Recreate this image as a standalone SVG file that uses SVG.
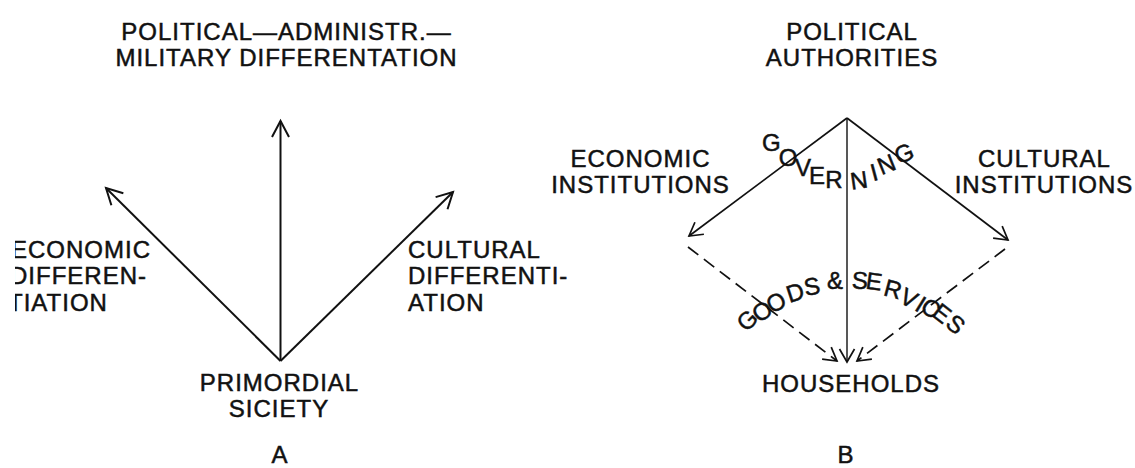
<svg xmlns="http://www.w3.org/2000/svg" width="1135" height="468" viewBox="0 0 1135 468">
  <style>
    .lbl { font-family: "Liberation Sans", Arial, Helvetica, sans-serif; font-size: 24px; letter-spacing: 1px; fill: #111; stroke: #111; stroke-width: 0.5px; }
    .mid { text-anchor: middle; }
    .curve { font-family: "Liberation Sans", Arial, Helvetica, sans-serif; font-size: 24px; fill: #111; stroke: #111; stroke-width: 0.5px; }
    .edgeA { stroke: #111; stroke-width: 2; fill: none; }
    .edgeB { stroke: #111; stroke-width: 1.7; fill: none; }
    .thin { stroke-width: 1.4; }
    .dash { stroke-dasharray: 13 7; }
  </style>
  <defs>
    <marker id="headA" markerUnits="userSpaceOnUse" viewBox="-20 -12 24 24" markerWidth="24" markerHeight="24" refX="0" refY="0" orient="auto">
      <path d="M-16,-8.5 L0,0 L-16,8.5" fill="none" stroke="#111" stroke-width="2"/>
    </marker>
    <marker id="headB" markerUnits="userSpaceOnUse" viewBox="-18 -10 22 20" markerWidth="22" markerHeight="20" refX="0" refY="0" orient="auto">
      <path d="M-13,-7.5 L0,0 L-13,7.5" fill="none" stroke="#111" stroke-width="1.7"/>
    </marker>
    <clipPath id="pageEdge">
      <rect x="15" y="0" width="1120" height="468"/>
    </clipPath>
  </defs>

  <rect x="0" y="0" width="1135" height="468" fill="#fff"/>

  <!-- connectors -->
  <g id="connectors">
    <!-- panel A: three branches from the root -->
    <line class="edgeA" x1="280.5" y1="361" x2="280.5" y2="121" marker-end="url(#headA)"/>
    <line class="edgeA" x1="280.5" y1="361" x2="106" y2="188" marker-end="url(#headA)"/>
    <line class="edgeA" x1="280.5" y1="361" x2="453" y2="192" marker-end="url(#headA)"/>
    <!-- panel B: governing lines from the apex -->
    <line class="edgeB" x1="847" y1="118" x2="689" y2="236" marker-end="url(#headB)"/>
    <line class="edgeB" x1="847" y1="118" x2="1008" y2="240" marker-end="url(#headB)"/>
    <line class="edgeB thin" x1="847" y1="118" x2="847" y2="362" marker-end="url(#headB)"/>
    <!-- panel B: goods and services flows -->
    <line class="edgeB dash" x1="688" y1="247" x2="837" y2="361" marker-end="url(#headB)"/>
    <line class="edgeB dash" x1="1005" y1="249" x2="857" y2="361" marker-end="url(#headB)"/>
  </g>

  <!-- panel A -->
  <g id="a-political">
    <text class="lbl mid" x="286.5" y="40">POLITICAL—ADMINISTR.—</text>
    <text class="lbl mid" x="286.5" y="66">MILITARY DIFFERENTATION</text>
  </g>
  <g id="a-economic" clip-path="url(#pageEdge)">
    <text class="lbl" x="11" y="258">ECONOMIC</text>
    <text class="lbl" x="10" y="284">DIFFEREN-</text>
    <text class="lbl" x="8" y="311">TIATION</text>
  </g>
  <g id="a-cultural">
    <text class="lbl" x="408" y="258">CULTURAL</text>
    <text class="lbl" x="408" y="284">DIFFERENTI-</text>
    <text class="lbl" x="408" y="311">ATION</text>
  </g>
  <g id="a-primordial">
    <text class="lbl mid" x="279.5" y="391">PRIMORDIAL</text>
    <text class="lbl mid" x="279" y="417">SICIETY</text>
  </g>
  <g id="a-caption">
    <text class="lbl mid" x="280" y="463">A</text>
  </g>

  <!-- panel B -->
  <g id="b-political">
    <text class="lbl mid" x="852" y="40">POLITICAL</text>
    <text class="lbl mid" x="852" y="66">AUTHORITIES</text>
  </g>
  <g id="b-economic">
    <text class="lbl mid" x="640.5" y="167">ECONOMIC</text>
    <text class="lbl mid" x="640.5" y="193">INSTITUTIONS</text>
  </g>
  <g id="b-cultural">
    <text class="lbl mid" x="1044.5" y="167">CULTURAL</text>
    <text class="lbl mid" x="1044" y="193">INSTITUTIONS</text>
  </g>
  <g id="b-households">
    <text class="lbl mid" x="851" y="392">HOUSEHOLDS</text>
  </g>
  <g id="b-governing">
    <text class="curve"
          x="762 778.7 795 809 825.3 851.6 873 881.5 898.6"
          y="150.6 165.6 175.6 183.6 187.6 189.7 181.2 175.2 164.5"
          rotate="0 0 0 0 0 -8 -15 -22 -22">GOVERNING</text>
  </g>
  <g id="b-goods">
    <text class="curve"
          x="746.5 759.3 771.8 789.4 805.6 818 827 843 851.6 864.9 882.4 897.9 913.6 919 930.4 944.3"
          y="332.7 323.4 314 302.9 295.9 296 288.6 288 288.2 288.4 295.1 301.8 309.5 310.1 314.9 325.5"
          rotate="-45 -35 -28 -18 -10 0 0 0 3 8 15 28 32 35 38 40">GOODS &amp; SERVICES</text>
  </g>
  <g id="b-caption">
    <text class="lbl mid" x="846" y="463">B</text>
  </g>
</svg>
